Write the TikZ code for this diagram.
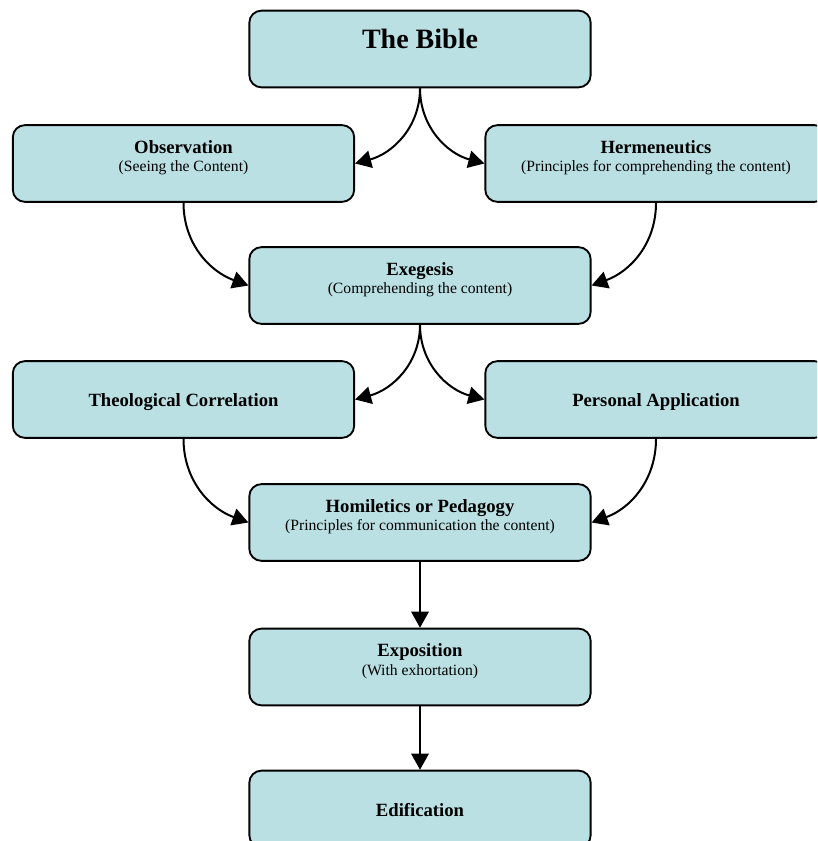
\documentclass[tikz,border=0pt]{standalone}
\usepackage{fontspec}
\setmainfont{Liberation Serif}
\usetikzlibrary{arrows.meta,positioning}
\definecolor{boxfill}{RGB}{186,224,227}

\newcommand{\hd}[1]{{\fontsize{14}{14}\selectfont\bfseries #1}}

\begin{document}
\begin{tikzpicture}[
    x=0.75pt, y=-0.75pt,
    stage/.style={rectangle, draw, fill=boxfill, line width=1.4pt, rounded corners=9pt, minimum width=256pt, minimum height=57.5pt, align=center, font=\fontsize{11.75}{14}\selectfont, text depth=11pt},
    single/.style={stage, text height=14pt, text depth=3.5pt},
    arrow/.style={-{Triangle[length=12pt,width=13pt]}, line width=1.5pt}
]
\useasboundingbox (0,0) rectangle (817,841);
\clip (0,0) rectangle (817,841);

% Source
\node[stage, font=\fontsize{21}{25}\selectfont\bfseries, text depth=15pt] (bible) at (420,49) {The Bible};

% First pair and exegesis
\node[stage] (obs) at (183.5,163.5) {\hd{Observation}\\(Seeing the Content)};
\node[stage] (herm) at (656,163.5) {\hd{Hermeneutics}\\(Principles for comprehending the content)};
\node[stage] (exeg) at (420,285.5) {\hd{Exegesis}\\(Comprehending the content)};

% Second pair and homiletics
\node[single] (theo) at (183.5,399.5) {\hd{Theological Correlation}};
\node[single] (pers) at (656,399.5) {\hd{Personal Application}};
\node[stage] (homi) at (420,522.5) {\hd{Homiletics or Pedagogy}\\(Principles for communication the content)};

% Bottom chain
\node[stage] (expo) at (420,667) {\hd{Exposition}\\(With exhortation)};
\node[single] (edif) at (420,809) {\hd{Edification}};

% Arrows - split and merge
\draw[arrow] (bible.south) to[out=-90, in=15] (obs.east);
\draw[arrow] (bible.south) to[out=-90, in=165] (herm.west);
\draw[arrow] (obs.south) to[out=-90, in=160] (exeg.west);
\draw[arrow] (herm.south) to[out=-90, in=20] (exeg.east);

\draw[arrow] (exeg.south) to[out=-90, in=15] (theo.east);
\draw[arrow] (exeg.south) to[out=-90, in=165] (pers.west);
\draw[arrow] (theo.south) to[out=-90, in=160] (homi.west);
\draw[arrow] (pers.south) to[out=-90, in=20] (homi.east);

% Arrows - straight down
\draw[arrow] (homi) -- (expo);
\draw[arrow] (expo) -- (edif);

\end{tikzpicture}
\end{document}
